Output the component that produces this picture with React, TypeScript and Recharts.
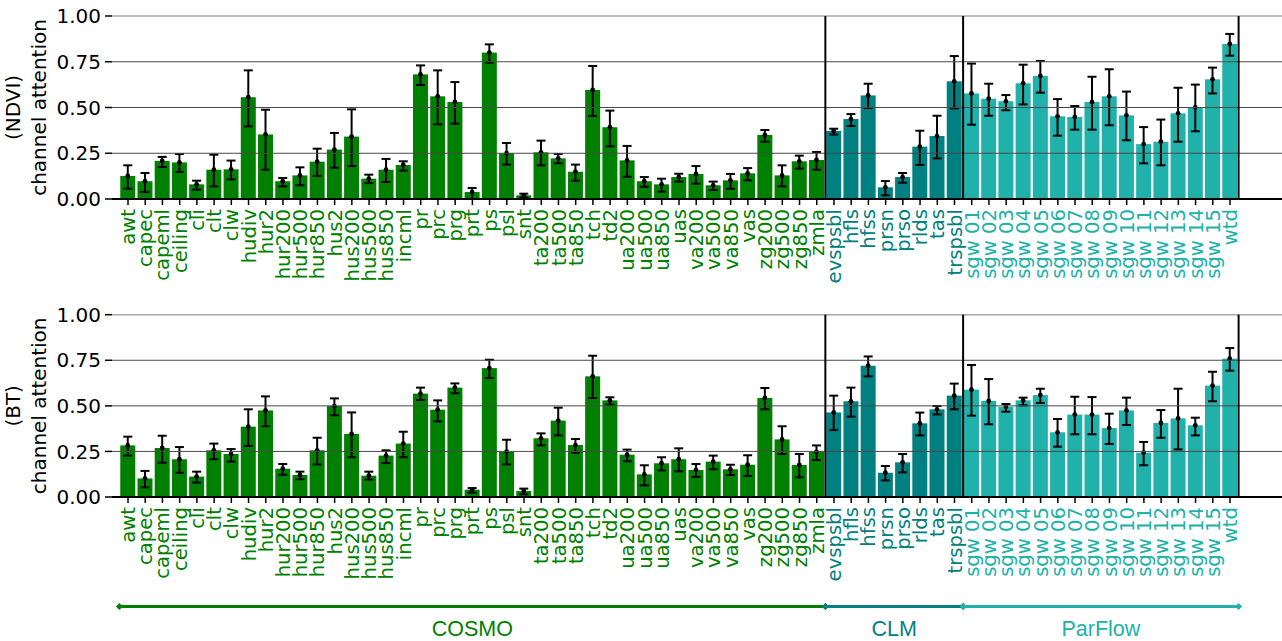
import React from 'react';
import { ComposedChart, Bar, XAxis, YAxis, ReferenceLine, ErrorBar, Cell } from 'recharts';

// ---------- categories ----------
const cosmoChannels = [
  'awt', 'capec', 'capeml', 'ceiling', 'cli', 'clt', 'clw', 'hudiv', 'hur2', 'hur200',
  'hur500', 'hur850', 'hus2', 'hus200', 'hus500', 'hus850', 'incml', 'pr', 'prc', 'prg',
  'prt', 'ps', 'psl', 'snt', 'ta200', 'ta500', 'ta850', 'tch', 'td2', 'ua200',
  'ua500', 'ua850', 'uas', 'va200', 'va500', 'va850', 'vas', 'zg200', 'zg500', 'zg850', 'zmla',
];
const clmChannels = ['evspsbl', 'hfls', 'hfss', 'prsn', 'prso', 'rlds', 'tas', 'trspsbl'];
const parflowChannels = [
  'sgw 01', 'sgw 02', 'sgw 03', 'sgw 04', 'sgw 05', 'sgw 06', 'sgw 07', 'sgw 08',
  'sgw 09', 'sgw 10', 'sgw 11', 'sgw 12', 'sgw 13', 'sgw 14', 'sgw 15', 'wtd',
];
const groupNames = ['COSMO', 'CLM', 'ParFlow'];
const groupColors = ['#008000', '#008080', '#20b2aa'];
const groupChannels = [cosmoChannels, clmChannels, parflowChannels];
const channels = [...cosmoChannels, ...clmChannels, ...parflowChannels];

// ---------- NDVI panel ----------
const ndviMean = [
  0.126, 0.097, 0.208, 0.200, 0.080, 0.160, 0.162, 0.556, 0.353, 0.097,
  0.129, 0.204, 0.270, 0.341, 0.111, 0.160, 0.186, 0.681, 0.561, 0.530,
  0.038, 0.800, 0.250, 0.020, 0.255, 0.222, 0.149, 0.596, 0.392, 0.211,
  0.097, 0.080, 0.120, 0.137, 0.075, 0.102, 0.140, 0.350, 0.129, 0.206, 0.213,
  0.372, 0.437, 0.566, 0.064, 0.120, 0.286, 0.344, 0.643,
  0.577, 0.548, 0.534, 0.632, 0.672, 0.452, 0.448, 0.530, 0.561, 0.457, 0.300, 0.313, 0.468, 0.501, 0.654, 0.847,
];
const ndviLow = [
  0.056, 0.038, 0.175, 0.148, 0.051, 0.069, 0.107, 0.397, 0.160, 0.069,
  0.075, 0.126, 0.171, 0.180, 0.087, 0.093, 0.155, 0.623, 0.408, 0.412,
  0.000, 0.745, 0.188, 0.009, 0.184, 0.195, 0.100, 0.454, 0.288, 0.122,
  0.067, 0.040, 0.095, 0.084, 0.049, 0.056, 0.102, 0.313, 0.069, 0.166, 0.160,
  0.352, 0.399, 0.497, 0.020, 0.089, 0.186, 0.222, 0.495,
  0.406, 0.455, 0.485, 0.517, 0.581, 0.346, 0.379, 0.379, 0.403, 0.321, 0.195, 0.184, 0.313, 0.370, 0.577, 0.783,
];
const ndviHigh = [
  0.184, 0.142, 0.230, 0.246, 0.100, 0.242, 0.210, 0.703, 0.488, 0.115,
  0.173, 0.275, 0.361, 0.490, 0.133, 0.219, 0.206, 0.730, 0.703, 0.639,
  0.060, 0.845, 0.306, 0.029, 0.319, 0.246, 0.188, 0.727, 0.483, 0.290,
  0.120, 0.111, 0.138, 0.180, 0.095, 0.137, 0.169, 0.377, 0.184, 0.237, 0.257,
  0.384, 0.464, 0.630, 0.098, 0.142, 0.373, 0.455, 0.781,
  0.740, 0.630, 0.568, 0.734, 0.754, 0.546, 0.508, 0.668, 0.709, 0.587, 0.393, 0.434, 0.608, 0.625, 0.718, 0.902,
];

// ---------- BT panel ----------
const btMean = [
  0.283, 0.102, 0.269, 0.207, 0.112, 0.256, 0.236, 0.386, 0.475, 0.155,
  0.121, 0.256, 0.499, 0.346, 0.117, 0.227, 0.293, 0.567, 0.479, 0.600,
  0.040, 0.707, 0.249, 0.033, 0.322, 0.419, 0.285, 0.662, 0.530, 0.232,
  0.124, 0.185, 0.207, 0.148, 0.194, 0.152, 0.177, 0.543, 0.316, 0.176, 0.247,
  0.464, 0.525, 0.720, 0.133, 0.190, 0.404, 0.481, 0.556,
  0.589, 0.527, 0.495, 0.530, 0.559, 0.355, 0.452, 0.452, 0.378, 0.475, 0.243, 0.406, 0.431, 0.393, 0.611, 0.759,
];
const btLow = [
  0.227, 0.053, 0.188, 0.133, 0.079, 0.207, 0.194, 0.280, 0.388, 0.122,
  0.097, 0.179, 0.448, 0.218, 0.095, 0.186, 0.218, 0.532, 0.415, 0.569,
  0.024, 0.653, 0.179, 0.015, 0.283, 0.338, 0.243, 0.543, 0.506, 0.196,
  0.064, 0.146, 0.141, 0.110, 0.152, 0.121, 0.115, 0.481, 0.236, 0.108, 0.203,
  0.367, 0.441, 0.662, 0.091, 0.135, 0.338, 0.453, 0.481,
  0.446, 0.399, 0.468, 0.503, 0.516, 0.276, 0.344, 0.344, 0.291, 0.395, 0.174, 0.325, 0.261, 0.338, 0.525, 0.693,
];
const btHigh = [
  0.331, 0.143, 0.336, 0.274, 0.139, 0.293, 0.263, 0.481, 0.552, 0.181,
  0.139, 0.325, 0.541, 0.464, 0.139, 0.256, 0.358, 0.600, 0.530, 0.623,
  0.049, 0.753, 0.314, 0.046, 0.349, 0.490, 0.318, 0.775, 0.547, 0.260,
  0.174, 0.218, 0.267, 0.181, 0.227, 0.177, 0.229, 0.598, 0.388, 0.236, 0.283,
  0.556, 0.600, 0.771, 0.170, 0.236, 0.463, 0.499, 0.622,
  0.724, 0.647, 0.510, 0.545, 0.594, 0.428, 0.550, 0.548, 0.457, 0.545, 0.302, 0.477, 0.594, 0.435, 0.687, 0.817,
];

const yTicks = [0, 0.25, 0.5, 0.75, 1];
const gridTicks = [0.25, 0.5, 0.75, 1];

const FONT = '"DejaVu Sans", sans-serif';

const groupOf = (ch: string) => groupChannels.findIndex((g) => g.includes(ch));

const buildData = (mean: number[], low: number[], high: number[]) =>
  channels.map((ch, i) => ({
    channel: ch,
    group: groupOf(ch),
    value: mean[i],
    err: [mean[i] - low[i], high[i] - mean[i]],
  }));

const XTick = (props: any) => {
  const { x, y, payload } = props;
  const color = groupColors[groupOf(payload.value)];
  return (
    <text
      x={x}
      y={y + 2}
      transform={`rotate(-90, ${x}, ${y + 2})`}
      textAnchor="end"
      dy="0.36em"
      fontSize={19.6}
      fontFamily={FONT}
      fill={color}
    >
      {payload.value}
    </text>
  );
};

const BarShape = (props: any) => {
  const { x, y, width, height, fill } = props;
  return (
    <g>
      <rect x={x} y={y} width={width} height={height} fill={fill} />
      <circle cx={x + width / 2} cy={y} r={2.4} fill="#000" />
    </g>
  );
};

const makeYLabel = (title: string) => (props: any) => {
  const vb = props.viewBox || { x: 0, y: 0, width: 0, height: 0 };
  const cy = vb.y + vb.height / 2;
  return (
    <g>
      <text x={20} y={cy} transform={`rotate(-90, 20, ${cy})`} textAnchor="middle" fontSize={20} fontFamily={FONT} fill="#000">
        {title}
      </text>
      <text x={46} y={cy} transform={`rotate(-90, 46, ${cy})`} textAnchor="middle" fontSize={20} fontFamily={FONT} fill="#000">
        channel attention
      </text>
    </g>
  );
};

const makeBracket = (name: string, color: string) => (p: any) => {
  const { x1, y1, x2 } = p;
  const d = 3.5;
  const diamond = (cx: number) => `M${cx - d},${y1} L${cx},${y1 - d} L${cx + d},${y1} L${cx},${y1 + d} Z`;
  return (
    <g>
      <line x1={x1} y1={y1} x2={x2} y2={y1} stroke={color} strokeWidth={3} />
      <path d={diamond(x1)} fill={color} />
      <path d={diamond(x2)} fill={color} />
      <text
        x={(x1 + x2) / 2}
        y={y1 + 30}
        textAnchor="middle"
        fontSize={21.5}
        fontFamily='"Liberation Sans", Arial, sans-serif'
        fill={color}
      >
        {name}
      </text>
    </g>
  );
};

interface PanelProps {
  title: string;
  mean: number[];
  low: number[];
  high: number[];
  height: number;
  marginTop: number;
  marginBottom: number;
  xAxisHeight: number;
  showGroups: boolean;
}

const Panel = ({ title, mean, low, high, height, marginTop, marginBottom, xAxisHeight, showGroups }: PanelProps) => {
  const data = buildData(mean, low, high);
  const groupY = -0.6;
  return (
    <ComposedChart
      width={1282}
      height={height}
      data={data}
      margin={{ top: marginTop, right: 0, bottom: marginBottom, left: 0 }}
      barCategoryGap="5%"
    >
      <XAxis
        dataKey="channel"
        interval={0}
        tick={<XTick />}
        tickSize={6}
        tickMargin={2}
        tickLine={{ stroke: '#000', strokeWidth: 1.5 }}
        axisLine={{ stroke: '#000', strokeWidth: 2 }}
        height={xAxisHeight}
        padding={{ left: 7.4, right: 43.4 }}
      />
      <YAxis
        type="number"
        domain={[0, 1]}
        ticks={yTicks}
        interval={0}
        tickFormatter={(v: number) => v.toFixed(2)}
        width={112}
        axisLine={false}
        tickSize={7}
        tickMargin={4}
        tickLine={{ stroke: '#000', strokeWidth: 1.5 }}
        tick={{ fontSize: 20, fontFamily: FONT, fill: '#000' }}
        label={{ content: makeYLabel(title) }}
      />
      <Bar dataKey="value" isAnimationActive={false} shape={<BarShape />}>
        {data.map((d) => (
          <Cell key={d.channel} fill={groupColors[d.group]} />
        ))}
        <ErrorBar dataKey="err" width={4.5} stroke="#000" strokeWidth={2} direction="y" />
      </Bar>
      {gridTicks.map((t) => (
        <ReferenceLine
          key={`g${t}`}
          y={t}
          stroke={t === 1 ? '#a8a8a8' : '#4a4a4a'}
          strokeWidth={t === 1 ? 1.5 : 1}
          ifOverflow="visible"
        />
      ))}
      <ReferenceLine x={clmChannels[0]} position="start" stroke="#000" strokeWidth={2} />
      <ReferenceLine x={parflowChannels[0]} position="start" stroke="#000" strokeWidth={2} />
      <ReferenceLine x={parflowChannels[parflowChannels.length - 1]} position="end" stroke="#000" strokeWidth={2} />
      {showGroups && (
        <ReferenceLine
          segment={[
            { x: cosmoChannels[0], y: groupY },
            { x: clmChannels[0], y: groupY },
          ]}
          position="start"
          ifOverflow="visible"
          shape={makeBracket(groupNames[0], groupColors[0])}
        />
      )}
      {showGroups && (
        <ReferenceLine
          segment={[
            { x: clmChannels[0], y: groupY },
            { x: parflowChannels[0], y: groupY },
          ]}
          position="start"
          ifOverflow="visible"
          shape={makeBracket(groupNames[1], groupColors[1])}
        />
      )}
      {showGroups && (
        <ReferenceLine
          segment={[
            { x: clmChannels[clmChannels.length - 1], y: groupY },
            { x: parflowChannels[parflowChannels.length - 1], y: groupY },
          ]}
          position="end"
          ifOverflow="visible"
          shape={makeBracket(groupNames[2], groupColors[2])}
        />
      )}
    </ComposedChart>
  );
};

export default function App() {
  return (
    <div style={{ position: 'absolute', left: 0, top: 0, width: 1282, height: 641, background: '#fff' }}>
      <Panel
        title="(NDVI)"
        mean={ndviMean}
        low={ndviLow}
        high={ndviHigh}
        height={300}
        marginTop={16}
        marginBottom={0}
        xAxisHeight={101}
        showGroups={false}
      />
      <Panel
        title="(BT)"
        mean={btMean}
        low={btLow}
        high={btHigh}
        height={341}
        marginTop={14.7}
        marginBottom={44}
        xAxisHeight={100}
        showGroups={true}
      />
    </div>
  );
}
